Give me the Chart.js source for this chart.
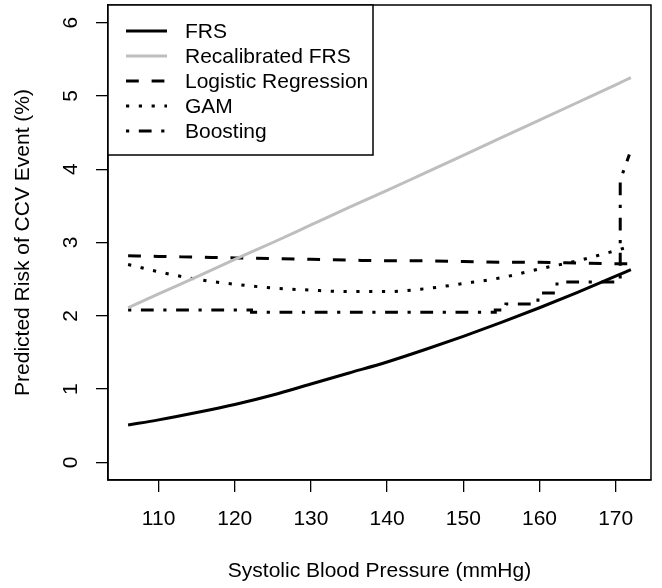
<!DOCTYPE html>
<html>
<head>
<meta charset="utf-8">
<script src="https://cdn.jsdelivr.net/npm/chart.js@4.4.1/dist/chart.umd.min.js"></script>
<style>
  html, body { margin: 0; padding: 0; background: #fff; }
  #wrap { width: 662px; height: 588px; }
</style>
</head>
<body>
<div id="wrap"><canvas id="myChart" width="662" height="588"></canvas></div>
<script>
// systolic blood pressure grid shared by the smooth curves
const sbp = [106, 110, 115, 120, 125, 130, 135, 140, 145, 150, 155, 160, 165, 170, 172];

const frs      = [0.51, 0.58, 0.68, 0.79, 0.92, 1.07, 1.22, 1.37, 1.54, 1.72, 1.91, 2.11, 2.32, 2.54, 2.63];
const recalFrs = [2.11, 2.30, 2.53, 2.77, 3.00, 3.24, 3.48, 3.71, 3.95, 4.19, 4.43, 4.67, 4.91, 5.15, 5.25];
const logistic = [2.82, 2.81, 2.80, 2.79, 2.78, 2.77, 2.76, 2.75, 2.75, 2.74, 2.73, 2.73, 2.72, 2.71, 2.71];
const gam      = [2.70, 2.60, 2.50, 2.43, 2.38, 2.35, 2.33, 2.33, 2.37, 2.44, 2.52, 2.64, 2.75, 2.89, 2.95];

// boosting is a step function, so it has its own x values
const boostX = [106, 122.2, 122.2, 154.2, 154.2, 155.6, 155.6, 159.8, 159.8, 162.3, 162.3, 170.6, 170.6, 171.8];
const boostY = [2.08, 2.08, 2.05, 2.05, 2.08, 2.08, 2.16, 2.16, 2.31, 2.31, 2.46, 2.46, 3.85, 4.20];

const xTicks = [110, 120, 130, 140, 150, 160, 170];
const yTicks = [0, 1, 2, 3, 4, 5, 6];

const seriesNames = ['FRS', 'Recalibrated FRS', 'Logistic Regression', 'GAM', 'Boosting'];

const FONT = 'Liberation Sans, Arial, Helvetica, sans-serif';
const FSIZE = 21;
const U = 3.2; // dash unit, like R's lty scaled by lwd

function pts(xs, ys){
    return xs.map((x, i) => ({x: x, y: ys[i]}));
}

// box around the plot, rotated y tick labels and the legend
const rBase = {
    id: 'rBase',
    afterDraw(chart){
        const ctx = chart.ctx;
        const a = chart.chartArea;
        ctx.save();
        ctx.strokeStyle = '#000';
        ctx.lineWidth = 1.5;
        ctx.strokeRect(a.left, a.top, a.right - a.left, a.bottom - a.top);

        // y tick labels, parallel to the axis
        const ys = chart.scales.y;
        ctx.fillStyle = '#000';
        ctx.font = FSIZE + 'px ' + FONT;
        ctx.textAlign = 'center';
        ctx.textBaseline = 'middle';
        for(const v of yTicks){
            const py = ys.getPixelForValue(v);
            ctx.save();
            ctx.translate(a.left - 37, py);
            ctx.rotate(-Math.PI / 2);
            ctx.fillText(String(v), 0, 0);
            ctx.restore();
        }

        // legend, top left
        const lx = a.left, ly = a.top;
        const lw = 265, lh = 150;
        ctx.fillStyle = '#fff';
        ctx.fillRect(lx, ly, lw, lh);
        ctx.strokeRect(lx, ly, lw, lh);
        chart.data.datasets.forEach((ds, i) => {
            const cy = ly + 26 + i * 25;
            ctx.save();
            ctx.strokeStyle = ds.borderColor;
            ctx.lineWidth = ds.borderWidth;
            ctx.lineCap = 'butt';
            ctx.setLineDash(ds.borderDash || []);
            ctx.beginPath();
            ctx.moveTo(lx + 18, cy);
            ctx.lineTo(lx + 59, cy);
            ctx.stroke();
            ctx.restore();
            ctx.fillStyle = '#000';
            ctx.textAlign = 'left';
            ctx.textBaseline = 'middle';
            ctx.fillText(ds.label, lx + 77, cy + 1);
        });
        ctx.restore();
    }
};

document.addEventListener('DOMContentLoaded', function () {
    const ctx = document.getElementById('myChart').getContext('2d');
    const common = {pointRadius: 0, borderWidth: 3, fill: false, borderCapStyle: 'butt'};
    const smooth = Object.assign({cubicInterpolationMode: 'monotone'}, common);
    new Chart(ctx, {
        type: 'line',
        data: {
            datasets: [
                Object.assign({label: seriesNames[0], data: pts(sbp, frs), borderColor: '#000'}, smooth),
                Object.assign({label: seriesNames[1], data: pts(sbp, recalFrs), borderColor: '#bebebe'}, smooth),
                Object.assign({label: seriesNames[2], data: pts(sbp, logistic), borderColor: '#000', borderDash: [4*U, 4*U]}, smooth),
                Object.assign({label: seriesNames[3], data: pts(sbp, gam), borderColor: '#000', borderDash: [1*U, 3*U]}, smooth),
                Object.assign({label: seriesNames[4], data: pts(boostX, boostY), borderColor: '#000', borderDash: [1*U, 3*U, 4*U, 3*U], tension: 0}, common)
            ]
        },
        options: {
            responsive: false,
            animation: false,
            layout: {padding: {left: 0, top: 5, right: 11, bottom: 0}},
            plugins: {legend: {display: false}, tooltip: {enabled: false}},
            scales: {
                x: {
                    type: 'linear',
                    min: 103.36,
                    max: 174.64,
                    afterBuildTicks: s => { s.ticks = xTicks.map(v => ({value: v})); },
                    afterFit: s => { s.height = 108; },
                    grid: {drawOnChartArea: false, drawTicks: true, tickLength: 12, color: '#000', lineWidth: 1.3},
                    border: {display: true, color: '#000', width: 1.5},
                    ticks: {color: '#000', font: {family: FONT, size: FSIZE}, padding: 15, maxRotation: 0},
                    title: {display: true, text: 'Systolic Blood Pressure (mmHg)', color: '#000',
                            font: {family: FONT, size: FSIZE}, padding: {top: 0, bottom: 4}}
                },
                y: {
                    type: 'linear',
                    min: -0.24,
                    max: 6.24,
                    afterBuildTicks: s => { s.ticks = yTicks.map(v => ({value: v})); },
                    afterFit: s => { s.width = 108; },
                    grid: {drawOnChartArea: false, drawTicks: true, tickLength: 12, color: '#000', lineWidth: 1.3},
                    border: {display: true, color: '#000', width: 1.5},
                    ticks: {display: false},
                    title: {display: true, text: 'Predicted Risk of CCV Event (%)', color: '#000',
                            font: {family: FONT, size: FSIZE}, padding: {top: 11, bottom: 0}}
                }
            }
        },
        plugins: [rBase]
    });
});
</script>
</body>
</html>
